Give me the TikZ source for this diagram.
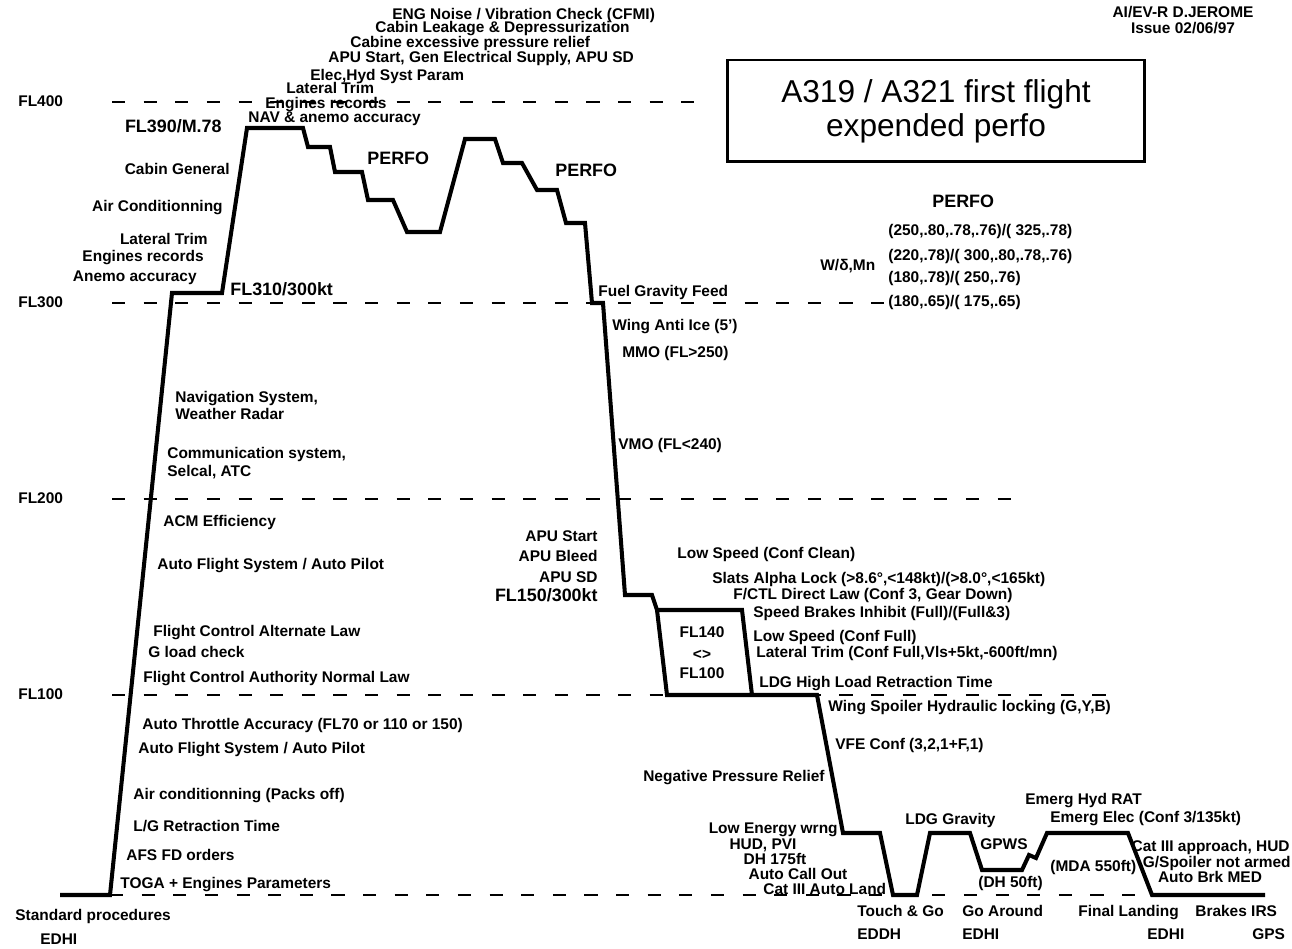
\documentclass[tikz,border=0pt]{standalone}
\usepackage{fontspec}
\setmainfont{Liberation Sans}

\begin{document}
\begin{tikzpicture}[x=0.02cm, y=-0.02cm,
    lab/.style={font=\bfseries\fontsize{8.8}{10}\selectfont, inner sep=0pt, text height=6.5pt, text depth=1.8pt},
    biglab/.style={font=\bfseries\fontsize{10.2}{12}\selectfont, inner sep=0pt, text height=7.5pt, text depth=2pt},
    flline/.style={line width=1.4pt, dash pattern=on 7.5pt off 10.5pt},
    profile/.style={line width=2.3pt, line join=miter}]
    \useasboundingbox (0,0) rectangle (1292,949);
    % flight levels
    \foreach \y/\fl/\xend in {102/FL400/700, 303/FL300/888, 499/FL200/1015, 695/FL100/1120}{
      \node[lab, anchor=west] (lvl-\fl) at (18,\y) {\fl};
      \draw[flline] (112,\y) -- (\xend,\y);
    }
    \draw[flline] (110,895) -- (1150,895);
    % profile
    \draw[profile] (60,895) -- (110,895) -- (172,293) -- (222,293) -- (247,128) -- (303,128)
      -- (308,147) -- (330,147) -- (335,172) -- (362,172) -- (368,200) -- (393,200)
      -- (407,232) -- (440,232) -- (465,139) -- (495,139) -- (503,163) -- (522,163)
      -- (537,190) -- (557,190) -- (566,223) -- (585,223) -- (592,303) -- (603,303)
      -- (625,595) -- (652,595) -- (657,610) -- (667,695) -- (817,695) -- (843,833)
      -- (880,833) -- (893,895) -- (917,895) -- (930,833) -- (970,833) -- (982,870)
      -- (1022,870) -- (1029,855) -- (1036,858) -- (1047,833) -- (1128,833)
      -- (1152,895) -- (1265,895);
    \draw[profile] (657,610) -- (742,610) -- (752,695);
    % title and header
    \node[draw, line width=1.7pt, minimum width=8.36cm, minimum height=2.04cm, align=center,
      font=\fontsize{18}{19.5}\selectfont] (title) at (936,111) {A319 / A321 first flight\\expended perfo};
    \node[lab] (author) at (1183,13) {AI/EV-R D.JEROME};
    \node[lab] (issue) at (1183,29) {Issue 02/06/97};
    % top of climb
    \node[lab, anchor=west] (t1) at (392,15) {ENG Noise / Vibration Check (CFMI)};
    \node[lab, anchor=west] (t2) at (375,28) {Cabin Leakage \& Depressurization};
    \node[lab, anchor=west] (t3) at (350,43) {Cabine excessive pressure relief};
    \node[lab, anchor=west] (t4) at (328,58) {APU Start, Gen Electrical Supply, APU SD};
    \node[lab, anchor=west] (t5) at (310,76) {Elec,Hyd Syst Param};
    \node[lab, anchor=west] (t6) at (286,89) {Lateral Trim};
    \node[lab, anchor=west] (t7) at (265,104) {Engines records};
    \node[lab, anchor=west] (t8) at (248,118) {NAV \& anemo accuracy};
    \node[biglab, anchor=east] (fl390) at (222,128) {FL390/M.78};
    \node[lab, anchor=east] (c1) at (230,170) {Cabin General};
    \node[lab, anchor=east] (c2) at (223,207) {Air Conditionning};
    \node[lab, anchor=east] (c3) at (208,240) {Lateral Trim};
    \node[lab, anchor=east] (c4) at (204,257) {Engines records};
    \node[lab, anchor=east] (c5) at (197,277) {Anemo accuracy};
    \node[biglab, anchor=west] (fl310) at (230,291) {FL310/300kt};
    \node[biglab, anchor=west] (perfo1) at (367,160) {PERFO};
    \node[biglab, anchor=west] (perfo2) at (555,172) {PERFO};
    % perfo table
    \node[biglab, anchor=west] (perfo3) at (932,203) {PERFO};
    \node[lab, anchor=west] (p1) at (888,231) {(250,.80,.78,.76)/( 325,.78)};
    \node[lab, anchor=west] (p2) at (888,256) {(220,.78)/( 300,.80,.78,.76)};
    \node[lab, anchor=west] (p3) at (888,278) {(180,.78)/( 250,.76)};
    \node[lab, anchor=west] (p4) at (888,302) {(180,.65)/( 175,.65)};
    \node[lab, anchor=west] (wmn) at (820,266) {W/δ,Mn};
    % climb
    \node[lab, anchor=west] (u1) at (175,398) {Navigation System,};
    \node[lab, anchor=west] (u2) at (175,415) {Weather Radar};
    \node[lab, anchor=west] (u3) at (167,454) {Communication system,};
    \node[lab, anchor=west] (u4) at (167,472) {Selcal, ATC};
    \node[lab, anchor=west] (u5) at (163,522) {ACM Efficiency};
    \node[lab, anchor=west] (u6) at (157,565) {Auto Flight System / Auto Pilot};
    \node[lab, anchor=west] (u7) at (153,632) {Flight Control Alternate Law};
    \node[lab, anchor=west] (u8) at (148,653) {G load check};
    \node[lab, anchor=west] (u9) at (143,678) {Flight Control Authority Normal Law};
    \node[lab, anchor=west] (v1) at (142,725) {Auto Throttle Accuracy (FL70 or 110 or 150)};
    \node[lab, anchor=west] (v2) at (138,749) {Auto Flight System / Auto Pilot};
    \node[lab, anchor=west] (v3) at (133,795) {Air conditionning (Packs off)};
    \node[lab, anchor=west] (v4) at (133,827) {L/G Retraction Time};
    \node[lab, anchor=west] (v5) at (126,856) {AFS FD orders};
    \node[lab, anchor=west] (v6) at (120,884) {TOGA + Engines Parameters};
    \node[lab, anchor=west] (std) at (15,916) {Standard procedures};
    \node[lab, anchor=west] (std-ap) at (40,940) {EDHI};
    % descent
    \node[lab, anchor=west] (d1) at (598,292) {Fuel Gravity Feed};
    \node[lab, anchor=west] (d2) at (612,326) {Wing Anti Ice (5')};
    \node[lab, anchor=west] (d3) at (622,353) {MMO (FL>250)};
    \node[lab, anchor=west] (d4) at (618,445) {VMO (FL<240)};
    \node[lab, anchor=east] (a1) at (598,537) {APU Start};
    \node[lab, anchor=east] (a2) at (598,557) {APU Bleed};
    \node[lab, anchor=east] (a3) at (598,578) {APU SD};
    \node[biglab, anchor=east] (fl150) at (598,597) {FL150/300kt};
    \node[lab, anchor=west] (s1) at (677,554) {Low Speed (Conf Clean)};
    \node[lab, anchor=west] (s2) at (712,579) {Slats Alpha Lock (>8.6°,<148kt)/(>8.0°,<165kt)};
    \node[lab, anchor=west] (s3) at (733,595) {F/CTL Direct Law (Conf 3, Gear Down)};
    \node[lab, anchor=west] (s4) at (753,613) {Speed Brakes Inhibit (Full)/(Full\&3)};
    \node[lab, anchor=west] (s5) at (753,637) {Low Speed (Conf Full)};
    \node[lab, anchor=west] (s6) at (756,653) {Lateral Trim (Conf Full,Vls+5kt,-600ft/mn)};
    \node[lab, anchor=west] (s7) at (759,683) {LDG High Load Retraction Time};
    \node[lab] (box1) at (702,633) {FL140};
    \node[lab] (box2) at (702,655) {<>};
    \node[lab] (box3) at (702,674) {FL100};
    % approach and landings
    \node[lab, anchor=west] (l1) at (828,707) {Wing Spoiler Hydraulic locking (G,Y,B)};
    \node[lab, anchor=west] (l2) at (835,745) {VFE Conf (3,2,1+F,1)};
    \node[lab, anchor=east] (l3) at (825,777) {Negative Pressure Relief};
    \node[lab, anchor=east] (l4) at (838,829) {Low Energy wrng};
    \node[lab] (l5) at (763,845) {HUD, PVI};
    \node[lab] (l6) at (775,860) {DH 175ft};
    \node[lab] (l7) at (798,875) {Auto Call Out};
    \node[lab, anchor=west] (l8) at (763,890) {Cat III Auto Land};
    \node[lab, anchor=west] (g1) at (905,820) {LDG Gravity};
    \node[lab, anchor=west] (g2) at (980,845) {GPWS};
    \node[lab, anchor=west] (g3) at (978,883) {(DH 50ft)};
    \node[lab, anchor=west] (e1) at (1025,800) {Emerg Hyd RAT};
    \node[lab, anchor=west] (e2) at (1050,818) {Emerg Elec (Conf 3/135kt)};
    \node[lab, anchor=west] (e3) at (1050,867) {(MDA 550ft)};
    \node[lab, anchor=east] (f1) at (1290,847) {Cat III approach, HUD};
    \node[lab, anchor=east] (f2) at (1291,863) {G/Spoiler not armed};
    \node[lab] (f3) at (1210,878) {Auto Brk MED};
    \node[lab, anchor=west] (tg) at (857,912) {Touch \& Go};
    \node[lab, anchor=west] (tg-ap) at (857,935) {EDDH};
    \node[lab, anchor=west] (ga) at (962,912) {Go Around};
    \node[lab, anchor=west] (ga-ap) at (962,935) {EDHI};
    \node[lab, anchor=west] (fin) at (1078,912) {Final Landing};
    \node[lab, anchor=west] (fin-ap) at (1147,935) {EDHI};
    \node[lab, anchor=west] (brk) at (1195,912) {Brakes IRS};
    \node[lab, anchor=west] (brk-ap) at (1252,935) {GPS};
\end{tikzpicture}
\end{document}
